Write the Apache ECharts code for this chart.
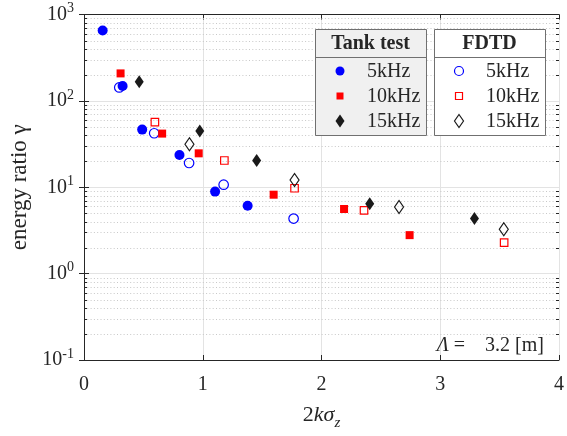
<!DOCTYPE html>
<html><head><meta charset="utf-8">
<script src="https://cdn.jsdelivr.net/npm/echarts@6/dist/echarts.min.js"></script>
<style>html,body{margin:0;padding:0;background:#fff}#c{width:567px;height:436px}</style>
</head><body><div id="c"></div>
<script>
// ---- data ----
var tank5x = [0.157, 0.325, 0.49, 0.804, 1.104, 1.378];
var tank5y = [653, 149, 46.5, 23.6, 8.9, 6.1];
var fdtd5x = [0.297, 0.591, 0.885, 1.176, 1.765];
var fdtd5y = [143, 42.2, 19.1, 10.7, 4.34];
var tank10x = [0.308, 0.658, 0.966, 1.597, 2.19, 2.742];
var tank10y = [208, 41.8, 24.7, 8.2, 5.6, 2.79];
var fdtd10x = [0.597, 1.182, 1.773, 2.358, 3.538];
var fdtd10y = [56.9, 20.4, 9.74, 5.4, 2.29];
var tank15x = [0.465, 0.975, 1.454, 2.406, 3.288];
var tank15y = [167, 44.9, 20.4, 6.44, 4.34];
var fdtd15x = [0.888, 1.773, 2.653, 3.535];
var fdtd15y = [31.5, 12.1, 5.9, 3.27];
var freqLabels = ['5kHz', '10kHz', '15kHz'];
var groupTitles = ['Tank test', 'FDTD'];
var xTicks = [0, 1, 2, 3, 4];
var yDecades = [0.1, 1, 10, 100, 1000];

function pairs(xs, ys){ return xs.map(function(x,i){ return [x, ys[i]]; }); }
var minorVals = [];
for (var d = 0; d < yDecades.length - 1; d++) for (var k = 2; k <= 9; k++) minorVals.push([0, yDecades[d] * k]);

var FONT = 'Liberation Serif';
var AX = '#262626';
var BLUE = '#0000ff', RED = '#ff0000', BLK = '#1a1a1a';

var chart = echarts.init(document.getElementById('c'), null, {renderer:'canvas'});

var legendGraphics = [];
(function(){
  var boxes = [{x:315, w:111, fill:'#f0f0f0'}, {x:434, w:111, fill:'#ffffff'}];
  var top = 29, h = 106, sep = 57, rows = [71, 96, 121];
  var colors = [BLUE, RED, BLK];
  boxes.forEach(function(b, gi){
    legendGraphics.push({type:'rect', shape:{x:b.x+0.5, y:top+0.5, width:b.w, height:h}, style:{fill:b.fill, stroke:'#707070', lineWidth:1}, z:100});
    legendGraphics.push({type:'line', shape:{x1:b.x+0.5, y1:sep+0.5, x2:b.x+b.w+0.5, y2:sep+0.5}, style:{stroke:'#707070', lineWidth:1}, z:101});
    legendGraphics.push({type:'text', x:b.x + b.w/2, y:(top+sep)/2+1, style:{text:groupTitles[gi], font:'bold 20px "'+FONT+'"', fill:AX, align:'center', verticalAlign:'middle'}, z:101});
    var mx = b.x + 25, tx = b.x + 52;
    rows.forEach(function(ry, ri){
      var filled = gi === 0, c = colors[ri];
      var st = filled ? {fill:c} : {fill:'none', stroke:c, lineWidth:1.2};
      var shp;
      if (ri === 0) shp = {type:'circle', shape:{cx:mx, cy:ry, r:4.5}, style:st, z:102};
      else if (ri === 1) shp = {type:'rect', shape:{x:mx-3.5, y:ry-3.5, width:7, height:7}, style:st, z:102};
      else shp = {type:'polygon', shape:{points:[[mx, ry-6.5],[mx+4.5, ry],[mx, ry+6.5],[mx-4.5, ry]]}, style:st, z:102};
      legendGraphics.push(shp);
      legendGraphics.push({type:'text', x:tx, y:ry+1, style:{text:freqLabels[ri], font:'20px "'+FONT+'"', fill:AX, align:'left', verticalAlign:'middle'}, z:102});
    });
  });
  legendGraphics.push({type:'text', x:544, y:346, style:{text:'{i|Λ} =    3.2 [m]', font:'20px "'+FONT+'"', fill:AX, align:'right', verticalAlign:'middle',
    rich:{i:{fontFamily:FONT, fontSize:20, fontStyle:'italic', fill:AX}}}, z:102});
})();

function sc(name, data, symbol, size, color, filled){
  return {type:'scatter', name:name, data:data, symbol:symbol, symbolSize:size, z:10,
    itemStyle: filled ? {color:color, opacity:1} : {color:'rgba(0,0,0,0)', borderColor:color, borderWidth:1.2, opacity:1},
    emphasis:{disabled:true}, animation:false};
}

var option = {
  animation:false,
  grid:{left:84, right:8, top:14.5, bottom:72, containLabel:false},
  xAxis:[{
    type:'value', min:0, max:4, interval:1, position:'bottom',
    axisLine:{show:true, lineStyle:{color:AX, width:1}},
    axisTick:{show:true, inside:true, length:5, lineStyle:{color:AX}},
    splitLine:{show:true, lineStyle:{color:'#e3e3e3', width:1}},
    axisLabel:{fontFamily:FONT, fontSize:20, color:AX, margin:15, formatter:function(v){ return xTicks.indexOf(v) >= 0 ? String(v) : ''; }},
    name:'2{i|kσ}{s|z}', nameLocation:'middle', nameGap:40,
    nameTextStyle:{fontFamily:FONT, fontSize:22, color:AX,
      rich:{i:{fontFamily:FONT, fontSize:22, fontStyle:'italic', color:AX}, s:{fontFamily:FONT, fontSize:15, fontStyle:'italic', color:AX, padding:[16,0,0,0]}}}
  },{
    type:'value', min:0, max:4, interval:1, position:'top',
    axisLine:{show:true, lineStyle:{color:AX, width:1}},
    axisTick:{show:true, inside:true, length:5, lineStyle:{color:AX}},
    splitLine:{show:false}, axisLabel:{show:false}
  }],
  yAxis:[{
    type:'log', logBase:10, min:0.1, max:1000, position:'left',
    axisLine:{show:true, lineStyle:{color:AX, width:1}},
    axisTick:{show:true, inside:true, length:5, lineStyle:{color:AX}},
    splitLine:{show:true, lineStyle:{color:'#e3e3e3', width:1}},
    axisLabel:{margin:10, formatter:function(v){ var e = Math.round(Math.log(v)/Math.LN10); return '{b|10}{s|'+e+'}'; },
      rich:{b:{fontFamily:FONT, fontSize:20, color:AX}, s:{fontFamily:FONT, fontSize:14, color:AX, padding:[0,0,12,0]}}},
    name:'energy ratio γ', nameLocation:'middle', nameGap:50,
    nameTextStyle:{fontFamily:FONT, fontSize:23, color:AX}
  },{
    type:'log', logBase:10, min:0.1, max:1000, position:'right',
    axisLine:{show:true, lineStyle:{color:AX, width:1}},
    axisTick:{show:true, inside:true, length:5, lineStyle:{color:AX}},
    splitLine:{show:false}, axisLabel:{show:false}
  }],
  graphic: legendGraphics,
  series:[
    {type:'custom', name:'minor', data:minorVals, silent:true, z:1, animation:false,
      renderItem:function(params, api){
        var p = api.coord([0, api.value(1)]);
        var cs = params.coordSys;
        var y = Math.round(p[1]) + 0.5;
        return {type:'group', children:[
          {type:'line', shape:{x1:cs.x, y1:y, x2:cs.x+cs.width, y2:y}, style:{stroke:'#c8c8c8', lineWidth:1, lineDash:[1,2.3]}},
          {type:'line', shape:{x1:cs.x, y1:y, x2:cs.x+3, y2:y}, style:{stroke:AX, lineWidth:1}},
          {type:'line', shape:{x1:cs.x+cs.width-3, y1:y, x2:cs.x+cs.width, y2:y}, style:{stroke:AX, lineWidth:1}}
        ]};
      }},
    sc('Tank 5kHz', pairs(tank5x, tank5y), 'circle', 10, BLUE, true),
    sc('FDTD 5kHz', pairs(fdtd5x, fdtd5y), 'circle', 9.5, BLUE, false),
    sc('Tank 10kHz', pairs(tank10x, tank10y), 'rect', 8, RED, true),
    sc('FDTD 10kHz', pairs(fdtd10x, fdtd10y), 'rect', 7.5, RED, false),
    sc('Tank 15kHz', pairs(tank15x, tank15y), 'diamond', [9, 13], BLK, true),
    sc('FDTD 15kHz', pairs(fdtd15x, fdtd15y), 'diamond', [9, 13], BLK, false)
  ]
};
chart.setOption(option);
</script></body></html>
